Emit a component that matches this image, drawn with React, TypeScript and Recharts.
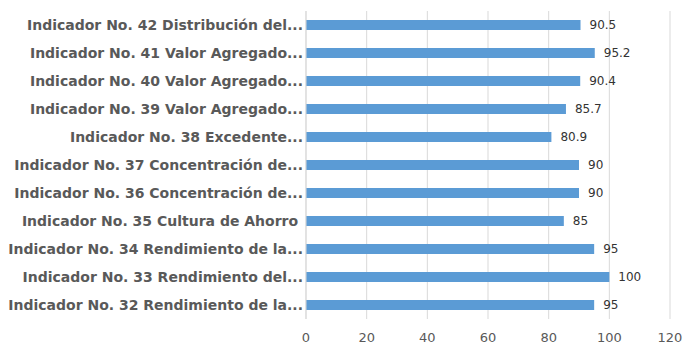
import * as React from 'react'
import { BarChart, Bar, XAxis, YAxis, CartesianGrid, LabelList } from 'recharts'

const categories = [
  'Indicador No. 42 Distribución del...',
  'Indicador No. 41 Valor Agregado...',
  'Indicador No. 40 Valor Agregado...',
  'Indicador No. 39 Valor Agregado...',
  'Indicador No. 38 Excedente...',
  'Indicador No. 37 Concentración de...',
  'Indicador No. 36 Concentración de...',
  'Indicador No. 35 Cultura de Ahorro ',
  'Indicador No. 34 Rendimiento de la...',
  'Indicador No. 33 Rendimiento del...',
  'Indicador No. 32 Rendimiento de la...',
]

const values = [90.5, 95.2, 90.4, 85.7, 80.9, 90, 90, 85, 95, 100, 95]

const xTicks = [0, 20, 40, 60, 80, 100, 120]

const data = categories.map((name, i) => ({ name, value: values[i] }))

const FONT = '"DejaVu Sans", Verdana, sans-serif'

// keeps the trailing space of label 35, plain Text would trim it
function CategoryTick(props: any) {
  const { x, y, payload } = props
  return (
    <text
      x={x - 1}
      y={y}
      dy="0.355em"
      textAnchor="end"
      xmlSpace="preserve"
      style={{ whiteSpace: 'pre' }}
      fontSize={14}
      fontWeight="bold"
      fontFamily={FONT}
      fill="#595959"
    >
      {payload.value}
    </text>
  )
}

export default function App() {
  return (
    <div style={{ position: 'absolute', left: 0, top: 0, width: 689, height: 351, background: '#fff' }}>
      <BarChart
        width={689}
        height={351}
        data={data}
        layout="vertical"
        margin={{ top: 11, right: 19, left: 0, bottom: 0 }}
      >
        <CartesianGrid horizontal={false} stroke="#d9d9d9" />
        <XAxis
          type="number"
          domain={[0, 120]}
          ticks={xTicks}
          axisLine={false}
          tickLine={false}
          tickSize={0}
          tickMargin={14}
          height={32}
          tick={{ fontSize: 13, fill: '#595959', fontFamily: FONT }}
        />
        <YAxis
          type="category"
          dataKey="name"
          width={306}
          axisLine={{ stroke: '#d9d9d9' }}
          tickLine={false}
          tickSize={0}
          interval={0}
          tick={<CategoryTick />}
        />
        <Bar dataKey="value" fill="#5b9bd5" barSize={10} isAnimationActive={false}>
          <LabelList
            dataKey="value"
            position="right"
            offset={9}
            style={{ fontSize: 12, fill: '#333333', fontFamily: FONT }}
          />
        </Bar>
      </BarChart>
    </div>
  )
}
